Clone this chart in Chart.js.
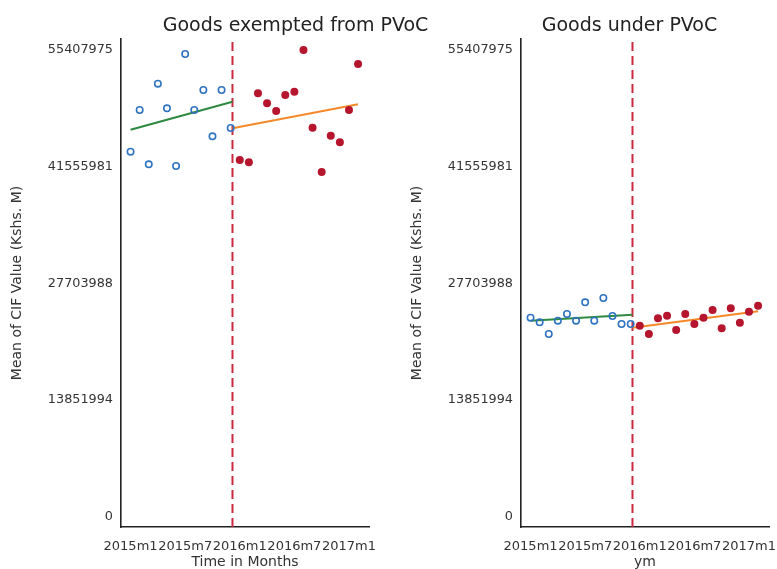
<!DOCTYPE html>
<html>
<head>
<meta charset="utf-8">
<script src="https://cdn.jsdelivr.net/npm/chart.js@4/dist/chart.umd.min.js"></script>
<style>
  html, body { margin: 0; padding: 0; background: #fff; width: 777px; height: 569px; overflow: hidden; }
  #wrap { position: relative; width: 777px; height: 569px; overflow: hidden; }
  canvas { position: absolute; top: 0; }
  #exempt { left: 0; }
  #under { left: 400px; }
</style>
</head>
<body>
<div id="wrap">
  <canvas id="under" width="400" height="569"></canvas>
  <canvas id="exempt" width="440" height="569"></canvas>
</div>
<script>
// Monthly periods on the time axis (index 0 = 2015m1)
const months = [
  '2015m1','2015m2','2015m3','2015m4','2015m5','2015m6','2015m7','2015m8','2015m9','2015m10','2015m11','2015m12',
  '2016m1','2016m2','2016m3','2016m4','2016m5','2016m6','2016m7','2016m8','2016m9','2016m10','2016m11','2016m12',
  '2017m1','2017m2'
];
const tickMonths = ['2015m1', '2015m7', '2016m1', '2016m7', '2017m1'];
const yTicks = [0, 13851994, 27703988, 41555981, 55407975];

// Mean CIF value per month, goods exempted from PVoC
const exemptBefore = [43334000, 48285000, 41838000, 51407000, 48487000, 41636000,
                      54933000, 48285000, 50659000, 45162000, 50659000, 46148000];
const exemptAfter  = [42349000, 42075000, 50267000, 49080000, 48166000, 50066000, 50457000,
                      55407975, 46183000, 40924000, 45233000, 44450000, 48285000, 53746000];

// Mean CIF value per month, goods under PVoC
const underBefore = [23626000, 23080000, 21691000, 23270000, 24065000, 23270000,
                     25454000, 23270000, 25965000, 23828000, 22878000, 22878000];
const underAfter  = [22676000, 21691000, 23555000, 23863000, 22166000, 24065000, 22878000,
                     23626000, 24540000, 22367000, 24742000, 23032000, 24338000, 25051000];

// Position of the policy break on the month axis
const cutoff = 11.2;

const Y_MIN = -1222800, Y_MAX = 56713935;
const X_MIN = -1.05, X_MAX = 26.2;
const FONT = 'DejaVu Sans';

function toPoints(values, offset) {
  return values.map((v, i) => ({ x: i + offset, y: v }));
}

// Ordinary least squares line through a set of points, evaluated at x0 and x1
function fitLine(points, x0, x1) {
  const n = points.length;
  const mx = points.reduce((s, p) => s + p.x, 0) / n;
  const my = points.reduce((s, p) => s + p.y, 0) / n;
  let sxy = 0, sxx = 0;
  points.forEach(p => { sxy += (p.x - mx) * (p.y - my); sxx += (p.x - mx) * (p.x - mx); });
  const b = sxy / sxx, a = my - b * mx;
  return [{ x: x0, y: a + b * x0 }, { x: x1, y: a + b * x1 }];
}

const panelTitle = {
  id: 'panelTitle',
  afterDraw(chart, args, opts) {
    const ctx = chart.ctx;
    ctx.save();
    ctx.font = `19px "${FONT}"`;
    ctx.fillStyle = '#222';
    ctx.textAlign = 'center';
    ctx.textBaseline = 'alphabetic';
    ctx.fillText(opts.text, opts.x, opts.y);
    ctx.restore();
  }
};

function buildChart(canvasId, cfg) {
  const before = toPoints(cfg.before, 0);
  const after = toPoints(cfg.after, cfg.before.length);
  const lastX = cfg.before.length + cfg.after.length - 1;
  return new Chart(document.getElementById(canvasId), {
    type: 'scatter',
    data: {
      datasets: [
        {
          data: before, pointStyle: 'circle', pointRadius: 3.2, pointBorderWidth: 1.6,
          borderColor: '#2f74c0', backgroundColor: 'rgba(255,255,255,0)', pointHoverRadius: 3.2
        },
        {
          data: after, pointStyle: 'circle', pointRadius: 4, pointBorderWidth: 0,
          borderColor: '#b5162e', backgroundColor: '#b5162e', pointHoverRadius: 4
        },
        {
          data: fitLine(before, 0, cutoff), showLine: true, pointRadius: 0,
          borderColor: '#2d8a40', borderWidth: 2
        },
        {
          data: fitLine(after, cutoff, lastX), showLine: true, pointRadius: 0,
          borderColor: '#f5892a', borderWidth: 2
        },
        {
          data: [{ x: cutoff, y: Y_MIN }, { x: cutoff, y: Y_MAX }], showLine: true, pointRadius: 0,
          borderColor: '#c92a3e', borderWidth: 2, borderDash: [9, 5]
        }
      ]
    },
    options: {
      responsive: false,
      animation: false,
      events: [],
      layout: { padding: { left: 0, right: cfg.padRight, top: 39, bottom: 0 } },
      plugins: {
        legend: { display: false },
        tooltip: { enabled: false },
        panelTitle: { text: cfg.title, x: cfg.titleX, y: 30.5 }
      },
      scales: {
        x: {
          type: 'linear', min: X_MIN, max: X_MAX,
          afterBuildTicks: s => { s.ticks = tickMonths.map(m => ({ value: months.indexOf(m) })); },
          afterFit: s => { s.height = 42; },
          ticks: {
            callback: v => months[v], autoSkip: false, maxRotation: 0, minRotation: 0,
            padding: 12, color: '#333', font: { family: FONT, size: 13 }
          },
          grid: { display: false, drawTicks: false, tickLength: 0 },
          border: { display: true, color: '#222', width: 1.6 },
          title: {
            display: true, text: cfg.xTitle, color: '#333',
            font: { family: FONT, size: 14, lineHeight: 1 }, padding: { top: 0, bottom: 0 }
          }
        },
        y: {
          type: 'linear', min: Y_MIN, max: Y_MAX,
          afterBuildTicks: s => { s.ticks = yTicks.map(v => ({ value: v })); },
          afterFit: s => { s.width = 121; },
          ticks: {
            callback: v => String(v), padding: 8, color: '#333',
            font: { family: FONT, size: 12.8 }
          },
          grid: { display: false, drawTicks: false, tickLength: 0 },
          border: { display: true, color: '#222', width: 1.6 },
          title: {
            display: true, text: 'Mean of CIF Value (Kshs. M)', color: '#333',
            font: { family: FONT, size: 14, lineHeight: 1.2 }, padding: { top: 9, bottom: 0 }
          }
        }
      }
    },
    plugins: [panelTitle]
  });
}

buildChart('exempt', {
  before: exemptBefore, after: exemptAfter,
  title: 'Goods exempted from PVoC', titleX: 295.5,
  xTitle: 'Time in Months', padRight: 71
});

buildChart('under', {
  before: underBefore, after: underAfter,
  title: 'Goods under PVoC', titleX: 229.5,
  xTitle: 'ym', padRight: 31
});
</script>
</body>
</html>
